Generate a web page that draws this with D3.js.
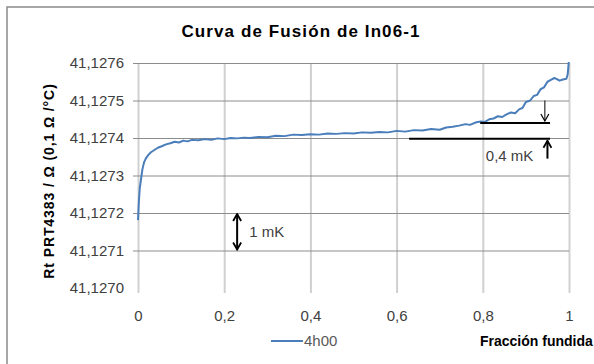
<!DOCTYPE html>
<html>
<head>
<meta charset="utf-8">
<script src="https://cdn.jsdelivr.net/npm/d3@7"></script>
<style>
  body { margin: 0; background: #fff; }
  text { font-family: "Liberation Sans", Arial, sans-serif; }
</style>
</head>
<body>
<div id="chart"></div>
<script>
// curve "4h00"
var fraction = [0.000, 0.002, 0.004, 0.007, 0.010, 0.014, 0.018, 0.024, 0.030, 0.038,
                0.046, 0.055, 0.065, 0.075, 0.085, 0.095, 0.105, 0.115, 0.125, 0.140,
                0.155, 0.170, 0.185, 0.200, 0.215, 0.230, 0.245, 0.260, 0.280, 0.300,
                0.320, 0.340, 0.360, 0.380, 0.400, 0.420, 0.440, 0.460, 0.480, 0.500,
                0.520, 0.540, 0.560, 0.580, 0.600, 0.620, 0.640, 0.660, 0.680, 0.700,
                0.715, 0.730, 0.745, 0.760, 0.770, 0.785, 0.795, 0.805, 0.815, 0.825,
                0.835, 0.845, 0.855, 0.865, 0.875, 0.885, 0.892, 0.900, 0.910, 0.918,
                0.926, 0.934, 0.942, 0.950, 0.958, 0.966, 0.972, 0.978, 0.986, 0.994,
                0.997, 1.000];
var rt = [41.127181, 41.127230, 41.127265, 41.127290, 41.127315, 41.127335, 41.127345, 41.127355, 41.127362, 41.127368,
          41.127374, 41.127378, 41.127383, 41.127386, 41.127390, 41.127388, 41.127393, 41.127391, 41.127395, 41.127394,
          41.127397, 41.127395, 41.127399, 41.127397, 41.127400, 41.127399, 41.127401, 41.127400, 41.127403, 41.127402,
          41.127406, 41.127405, 41.127409, 41.127408, 41.127410, 41.127409, 41.127412, 41.127411, 41.127413, 41.127412,
          41.127415, 41.127414, 41.127416, 41.127415, 41.127419, 41.127417, 41.127421, 41.127420, 41.127424, 41.127422,
          41.127428, 41.127430, 41.127433, 41.127437, 41.127435, 41.127442, 41.127444, 41.127443, 41.127450, 41.127452,
          41.127458, 41.127456, 41.127463, 41.127468, 41.127466, 41.127477, 41.127480, 41.127496, 41.127500, 41.127512,
          41.127515, 41.127530, 41.127535, 41.127550, 41.127555, 41.127560, 41.127557, 41.127553, 41.127556, 41.127558,
          41.127570, 41.127610];

var xTicks = [0, 0.2, 0.4, 0.6, 0.8, 1];
var yTicks = [41.1270, 41.1271, 41.1272, 41.1273, 41.1274, 41.1275, 41.1276];

var seriesName = "4h00";
var titleText = "Curva de Fusión de In06-1";
var yTitle = "Rt PRT4383 / Ω  (0,1 Ω /°C)";
var xTitle = "Fracción fundida";

// annotations, in data units
var refLines = [{ x0: 0.629, x1: 0.956, v: 41.127398 },
                { x0: 0.794, x1: 0.956, v: 41.127440 }];

////////////////////////////////////////////////////////////////////////

var W = 594, H = 364;
var blue = "#4a7ebb";

var svg = d3.select("#chart").append("svg")
            .attr("width", W)
            .attr("height", H);

svg.append("rect")
   .attr("x", 7).attr("y", 7)
   .attr("width", 620).attr("height", 400)
   .style("fill", "#fff")
   .style("stroke", "#8a8a8a")
   .style("stroke-width", 1.5);

var x = d3.scaleLinear().domain([0, 1]).range([138, 569]);
var y = d3.scaleLinear().domain([41.1270, 41.1276]).range([288, 63]);

var comma = function(s) { return s.replace(".", ","); };

// x axis + vertical grid
var xAxis = svg.append("g")
               .attr("transform", "translate(0,293)")
               .call(d3.axisBottom(x)
                        .tickValues(xTicks)
                        .tickSize(-230)
                        .tickPadding(17)
                        .tickFormat(function(d) { return comma(String(d)); }));
xAxis.select(".domain").remove();
xAxis.selectAll("line").style("stroke", "#d0d0d0").style("stroke-width", 2);
xAxis.selectAll("text").style("font-size", "15px").style("fill", "#404040")
     .style("font-family", "'Liberation Sans', Arial, sans-serif");

// y axis + horizontal grid
var yAxis = svg.append("g")
               .attr("transform", "translate(133,0)")
               .call(d3.axisLeft(y)
                        .tickValues(yTicks)
                        .tickSize(-(569 - 133))
                        .tickPadding(9)
                        .tickFormat(function(d) { return comma(d3.format(".4f")(d)); }));
yAxis.select(".domain").remove();
yAxis.selectAll("line")
     .style("stroke", function(d) { return d === 41.1270 ? "none" : "#8c8c8c"; })
     .style("stroke-width", 1);
yAxis.selectAll("text").style("font-size", "15px").style("fill", "#404040")
     .style("font-family", "'Liberation Sans', Arial, sans-serif");

// curve
svg.append("clipPath").attr("id", "plotclip")
   .append("rect")
   .attr("x", x(0) - 2).attr("y", y(41.1276) - 1)
   .attr("width", x(1) - x(0) + 4).attr("height", y(41.1270) - y(41.1276) + 2);

var pts = fraction.map(function(f, i) { return [f, rt[i]]; });
var line = d3.line()
             .x(function(d) { return x(d[0]); })
             .y(function(d) { return y(d[1]); });

svg.append("path")
   .datum(pts)
   .attr("clip-path", "url(#plotclip)")
   .attr("d", line)
   .style("fill", "none")
   .style("stroke", blue)
   .style("stroke-width", 2)
   .style("stroke-linejoin", "round");

// markers
var defs = svg.append("defs");
function chevron(id, w) {
    defs.append("marker")
        .attr("id", id)
        .attr("viewBox", "0 0 10 10")
        .attr("refX", 9).attr("refY", 5)
        .attr("markerWidth", 10).attr("markerHeight", 10)
        .attr("markerUnits", "userSpaceOnUse")
        .attr("orient", "auto-start-reverse")
        .append("path")
        .attr("d", "M2,1 L9,5 L2,9")
        .style("fill", "none")
        .style("stroke", "#000")
        .style("stroke-width", w);
}
chevron("headThick", 1.8);
chevron("headThin", 1.2);

// reference lines
svg.selectAll(".ref")
   .data(refLines)
 .enter().append("line")
   .attr("class", "ref")
   .attr("x1", function(d) { return x(d.x0); })
   .attr("x2", function(d) { return x(d.x1); })
   .attr("y1", function(d) { return y(d.v); })
   .attr("y2", function(d) { return y(d.v); })
   .style("stroke", "#000")
   .style("stroke-width", 2);

// 1 mK double arrow
svg.append("line")
   .attr("x1", x(0.230)).attr("x2", x(0.230))
   .attr("y1", y(41.12720) + 1).attr("y2", y(41.12710) - 1)
   .attr("marker-start", "url(#headThick)")
   .attr("marker-end", "url(#headThick)")
   .style("stroke", "#000").style("stroke-width", 2);

svg.append("text")
   .attr("x", x(0.258)).attr("y", y(41.12715) + 5)
   .style("font-size", "15px").style("fill", "#404040")
   .text("1 mK");

// 0,4 mK arrows
svg.append("line")
   .attr("x1", x(0.944)).attr("x2", x(0.944))
   .attr("y1", y(41.12750)).attr("y2", y(41.12744) - 2)
   .attr("marker-end", "url(#headThin)")
   .style("stroke", "#000").style("stroke-width", 1);

svg.append("line")
   .attr("x1", x(0.950)).attr("x2", x(0.950))
   .attr("y1", y(41.127345)).attr("y2", y(41.127398) + 2)
   .attr("marker-end", "url(#headThick)")
   .style("stroke", "#000").style("stroke-width", 2);

svg.append("text")
   .attr("x", x(0.807)).attr("y", y(41.127352) + 5)
   .style("font-size", "15px").style("fill", "#404040")
   .text("0,4 mK");

// titles
svg.append("text")
   .attr("x", 301).attr("y", 37)
   .attr("text-anchor", "middle")
   .style("font-size", "17px").style("font-weight", "bold")
   .style("letter-spacing", "1.1px")
   .style("fill", "#000")
   .text(titleText);

svg.append("text")
   .attr("transform", "translate(54,181) rotate(-90)")
   .attr("text-anchor", "middle")
   .style("font-size", "14px").style("font-weight", "bold")
   .style("letter-spacing", "0.9px")
   .style("fill", "#000")
   .text(yTitle);

svg.append("text")
   .attr("x", 480).attr("y", 346)
   .style("font-size", "14px").style("font-weight", "bold")
   .style("fill", "#000")
   .text(xTitle);

// legend
svg.append("line")
   .attr("x1", 271).attr("x2", 303)
   .attr("y1", 341).attr("y2", 341)
   .style("stroke", blue).style("stroke-width", 2);

svg.append("text")
   .attr("x", 304).attr("y", 346)
   .style("font-size", "15px").style("fill", "#595959")
   .text(seriesName);
</script>
</body>
</html>
